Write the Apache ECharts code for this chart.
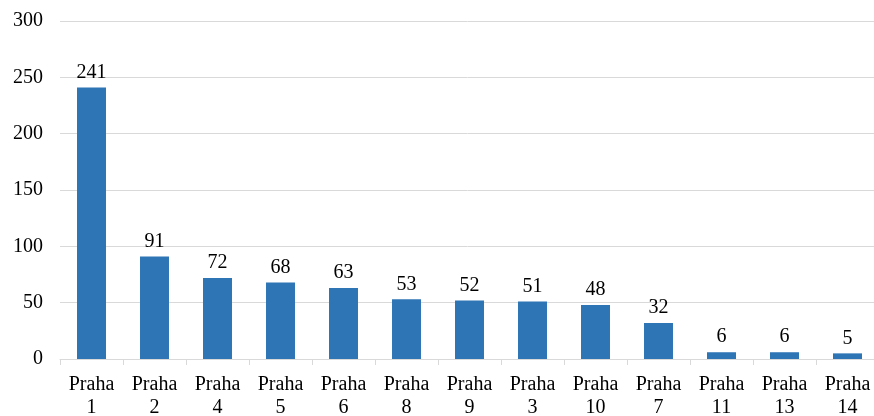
<!DOCTYPE html>
<html>
<head>
<meta charset="utf-8">
<script src="https://cdn.jsdelivr.net/npm/echarts@6/dist/echarts.min.js"></script>
<style>
  html, body { margin: 0; padding: 0; background: #fff; }
  #chart { width: 874px; height: 416px; }
</style>
</head>
<body>
<div id="chart"></div>
<script>
// Districts of Prague, sorted by count
const categories = ['Praha\n1', 'Praha\n2', 'Praha\n4', 'Praha\n5', 'Praha\n6', 'Praha\n8', 'Praha\n9',
  'Praha\n3', 'Praha\n10', 'Praha\n7', 'Praha\n11', 'Praha\n13', 'Praha\n14'];
const counts = [241, 91, 72, 68, 63, 53, 52, 51, 48, 32, 6, 6, 5];
const yTicks = { min: 0, max: 300, interval: 50 };

const serif = '"Liberation Serif", "Times New Roman", serif';

const chart = echarts.init(document.getElementById('chart'));
chart.setOption({
  animation: false,
  grid: { left: 60, top: 21, width: 819, height: 338, outerBoundsMode: 'none', containLabel: false },
  xAxis: {
    type: 'category',
    data: categories,
    axisLine: { lineStyle: { color: '#d9d9d9', width: 1 } },
    axisTick: { show: true, length: 6, lineStyle: { color: '#d9d9d9' } },
    axisLabel: {
      color: '#000', fontFamily: serif, fontSize: 20, lineHeight: 23, margin: 14, interval: 0
    }
  },
  yAxis: {
    type: 'value',
    min: yTicks.min, max: yTicks.max, interval: yTicks.interval,
    axisLine: { show: false },
    axisTick: { show: false },
    splitLine: { lineStyle: { color: '#d9d9d9', width: 1 } },
    axisLabel: { color: '#000', fontFamily: serif, fontSize: 20, margin: 17 }
  },
  series: [{
    type: 'bar',
    data: counts,
    barWidth: '46%',
    itemStyle: { color: '#2E75B6' },
    label: {
      show: true, position: 'top', distance: 5,
      color: '#000', fontFamily: serif, fontSize: 20
    }
  }]
});
</script>
</body>
</html>
